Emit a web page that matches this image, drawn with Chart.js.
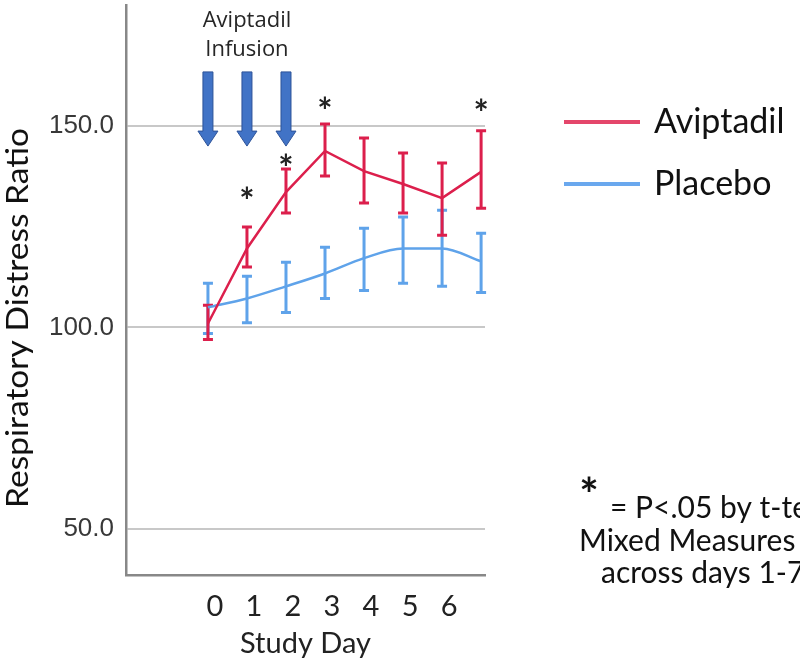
<!DOCTYPE html>
<html>
<head>
<meta charset="utf-8">
<script src="https://cdn.jsdelivr.net/npm/chart.js@4"></script>
<style>
  body { margin: 0; background: #fff; }
  #wrap { width: 800px; height: 665px; }
</style>
</head>
<body>
<div id="wrap"><canvas id="dayChart"></canvas></div>
<script>
const days = [0, 1, 2, 3, 4, 5, 6, 7];
const dayLabels = ['0', '1', '2', '3', '4', '5', '6'];
const yTicks = [50, 100, 150];

const aviptadilMean = [101, 119.6, 133.6, 143.8, 138.8, 135.6, 132.1, 138.6];
const aviptadilLow  = [97, 115, 128.4, 137.6, 130.9, 128.4, 122.9, 129.6];
const aviptadilHigh = [105.5, 124.9, 139.3, 150.5, 147, 143.3, 140.8, 148.8];

const placeboMean = [105, 107.2, 110.2, 113.4, 117.2, 119.6, 119.6, 116.4];
const placeboLow  = [98.5, 101.2, 103.7, 107.2, 109.2, 111, 110.2, 108.7];
const placeboHigh = [111, 112.7, 116.2, 119.9, 124.6, 127.4, 129.1, 123.4];

// significance stars (day, value) and infusion arrows (days, from/to value)
const starDays = [1, 2, 3, 7];
const starValues = [133.3, 141.5, 155.5, 155];
const infusionDays = [0, 1, 2];
const infusionFrom = 163.4;
const infusionTo = 145;

const red = '#DC1F4C';
const blue = '#5FA3EA';
const font = 'Lato, "Open Sans", sans-serif';

// stretch text along its baseline to a given width
function fitText(ctx, text, x, y, width) {
  const w = ctx.measureText(text).width;
  ctx.save();
  ctx.translate(x, y);
  ctx.scale(width / w, 1);
  ctx.fillText(text, 0, 0);
  ctx.restore();
}

const extras = {
  id: 'extras',
  beforeDatasetsDraw(chart) {
    const { ctx, scales: { x, y } } = chart;
    const bars = [
      { low: placeboLow, high: placeboHigh, color: blue },
      { low: aviptadilLow, high: aviptadilHigh, color: red }
    ];
    ctx.save();
    ctx.lineWidth = 3;
    bars.forEach(b => {
      ctx.strokeStyle = b.color;
      days.forEach((d, i) => {
        const px = x.getPixelForValue(d);
        const top = y.getPixelForValue(b.high[i]);
        const bot = y.getPixelForValue(b.low[i]);
        ctx.beginPath();
        ctx.moveTo(px, top); ctx.lineTo(px, bot);
        ctx.moveTo(px - 5, top); ctx.lineTo(px + 5, top);
        ctx.moveTo(px - 5, bot); ctx.lineTo(px + 5, bot);
        ctx.stroke();
      });
    });
    ctx.restore();
  },
  afterDraw(chart) {
    const { ctx, scales: { x, y } } = chart;
    ctx.save();

    // stars
    ctx.fillStyle = '#222';
    ctx.font = 'bold 36px ' + font;
    ctx.textAlign = 'center';
    ctx.textBaseline = 'middle';
    starDays.forEach((d, i) => {
      ctx.fillText('*', x.getPixelForValue(d), y.getPixelForValue(starValues[i]) + 9);
    });

    // infusion arrows
    ctx.fillStyle = '#4173C6';
    ctx.strokeStyle = '#2C5298';
    ctx.lineWidth = 1;
    infusionDays.forEach(d => {
      const px = x.getPixelForValue(d);
      const t = y.getPixelForValue(infusionFrom);
      const b = y.getPixelForValue(infusionTo);
      ctx.beginPath();
      ctx.moveTo(px - 5, t); ctx.lineTo(px + 5, t);
      ctx.lineTo(px + 5, b - 15); ctx.lineTo(px + 10, b - 15);
      ctx.lineTo(px, b); ctx.lineTo(px - 10, b - 15);
      ctx.lineTo(px - 5, b - 15); ctx.closePath();
      ctx.fill(); ctx.stroke();
    });
    ctx.fillStyle = '#262626';
    ctx.font = '22px "Open Sans", sans-serif';
    ctx.fillText('Aviptadil', x.getPixelForValue(1), 21);
    ctx.fillText('Infusion', x.getPixelForValue(1), 50);

    // y axis title
    ctx.save();
    ctx.translate(18, 318);
    ctx.rotate(-Math.PI / 2);
    ctx.fillStyle = '#111';
    ctx.font = '30px ' + font;
    ctx.textAlign = 'left';
    fitText(ctx, 'Respiratory Distress Ratio', -190, 0, 380);
    ctx.restore();

    // legend
    const items = [
      { label: chart.data.datasets[0].label, color: '#E4466B', y: 122 },
      { label: chart.data.datasets[1].label, color: '#6AA8EE', y: 184 }
    ];
    ctx.textAlign = 'left';
    ctx.font = '34px ' + font;
    items.forEach(it => {
      ctx.strokeStyle = it.color;
      ctx.lineWidth = 4;
      ctx.beginPath();
      ctx.moveTo(564, it.y); ctx.lineTo(640, it.y);
      ctx.stroke();
      ctx.fillStyle = '#111';
      ctx.fillText(it.label, 654, it.y);
    });

    // note
    ctx.textAlign = 'center';
    ctx.font = 'bold 46px ' + font;
    ctx.fillText('*', 589, 496);
    ctx.textAlign = 'left';
    ctx.font = '30px ' + font;
    ctx.fillText('= P<.05 by t-test', 610, 508);
    ctx.fillText('Mixed Measures', 579, 541);
    ctx.fillText('across days 1-7', 601, 573);
    ctx.restore();
  }
};

new Chart(document.getElementById('dayChart'), {
  type: 'line',
  data: {
    datasets: [
      {
        label: 'Aviptadil',
        data: days.map((d, i) => ({ x: d, y: aviptadilMean[i] })),
        borderColor: red,
        borderWidth: 2.5,
        pointRadius: 0,
        tension: 0
      },
      {
        label: 'Placebo',
        data: days.map((d, i) => ({ x: d, y: placeboMean[i] })),
        borderColor: blue,
        borderWidth: 2.5,
        pointRadius: 0,
        cubicInterpolationMode: 'monotone'
      }
    ]
  },
  options: {
    responsive: true,
    maintainAspectRatio: false,
    animation: false,
    layout: { padding: { top: 5, right: 315, left: 0, bottom: 0 } },
    scales: {
      x: {
        type: 'linear',
        min: -2.1,
        max: 7.1,
        afterBuildTicks: (scale) => { scale.ticks = dayLabels.map(v => ({ value: +v })); },
        afterFit: (scale) => { scale.height = 90; scale.paddingLeft = 0; scale.paddingRight = 0; },
        grid: { display: false, drawTicks: false },
        border: { color: '#888', width: 2.5 },
        ticks: {
          color: '#222',
          font: { family: font, size: 29 },
          padding: 14,
          labelOffset: 7,
          callback: (v) => String(v)
        },
        title: {
          display: true,
          text: 'Study Day',
          color: '#222',
          font: { family: font, size: 29 },
          padding: { top: 9 }
        }
      },
      y: {
        min: 38.6,
        max: 180,
        afterBuildTicks: (scale) => { scale.ticks = yTicks.map(v => ({ value: v })); },
        afterFit: (scale) => { scale.width = 126; scale.paddingTop = 0; scale.paddingBottom = 0; },
        grid: { color: '#c8c8c8', lineWidth: 2, drawTicks: false },
        border: { color: '#888', width: 2.5 },
        ticks: {
          color: '#383838',
          font: { family: '"Liberation Sans", Arial, sans-serif', size: 26 },
          padding: 12,
          callback: (v) => v.toFixed(1)
        }
      }
    },
    plugins: {
      legend: { display: false },
      tooltip: { enabled: false }
    }
  },
  plugins: [extras]
});
</script>
</body>
</html>
